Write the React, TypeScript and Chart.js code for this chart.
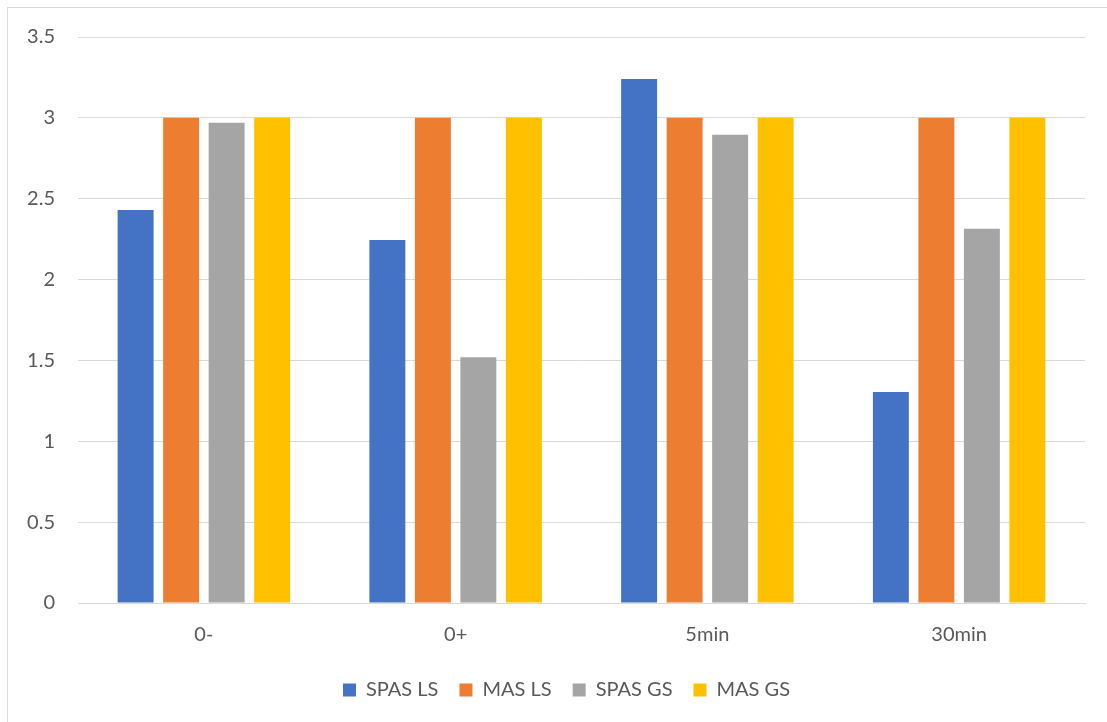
import React, { useEffect, useRef } from "react";
import { Chart, registerables } from "chart.js";

Chart.register(...registerables);

const categories = ["0-", "0+", "5min", "30min"];
const spasLS = [2.43, 2.245, 3.24, 1.305];
const masLS = [3, 3, 3, 3];
const spasGS = [2.97, 1.52, 2.895, 2.315];
const masGS = [3, 3, 3, 3];
const yTicks = [0, 0.5, 1, 1.5, 2, 2.5, 3, 3.5];

const FONT = "Lato, 'Open Sans', sans-serif";
const FS = 20;
const LEGEND_PAD = 21;
const LEGEND_TRIM = 7;
const LEGEND_SHIFT_Y = 8;
const LEGEND_SHIFT_X = 20;

const legendPatch = {
  id: "legendPatch",
  beforeLayout(chart: any) {
    const lg = chart.legend;
    if (lg && !lg.__patched) {
      const origFit = lg.fit.bind(lg);
      lg.fit = function () {
        origFit();
        this.height -= LEGEND_TRIM;
      };
      const origDraw = lg.draw.bind(lg);
      lg.draw = function () {
        const t = this.top, l = this.left, r = this.right;
        this.top = t - LEGEND_SHIFT_Y;
        this.left = l + LEGEND_SHIFT_X;
        this.right = r + LEGEND_SHIFT_X;
        origDraw();
        this.top = t;
        this.left = l;
        this.right = r;
      };
      lg.__patched = true;
    }
  },
};

export default function App() {
  const ref = useRef<HTMLCanvasElement>(null);
  useEffect(() => {
    if (!ref.current) return;
    const chart = new Chart(ref.current, {
      type: "bar",
      data: {
        labels: categories,
        datasets: [
          { label: "SPAS LS", data: spasLS, backgroundColor: "#4472C4" },
          { label: "MAS LS", data: masLS, backgroundColor: "#ED7D31" },
          { label: "SPAS GS", data: spasGS, backgroundColor: "#A5A5A5" },
          { label: "MAS GS", data: masGS, backgroundColor: "#FFC000" },
        ],
      },
      plugins: [legendPatch],
      options: {
        animation: false,
        responsive: false,
        maintainAspectRatio: false,
        datasets: { bar: { categoryPercentage: 0.723, barPercentage: 0.79 } },
        layout: { padding: { left: 0, right: 22, top: 29, bottom: 11 } },
        scales: {
          x: {
            grid: { display: false, drawTicks: false },
            border: { display: true, color: "#D9D9D9", width: 1 },
            ticks: { color: "#595959", font: { family: FONT, size: FS }, padding: 20 },
          },
          y: {
            min: 0,
            max: 3.5,
            afterBuildTicks: (scale: any) => {
              scale.ticks = yTicks.map((v) => ({ value: v }));
            },
            afterFit: (scale: any) => {
              scale.width = 70;
              scale.paddingTop = 0;
              scale.paddingBottom = 0;
            },
            grid: { color: "#D9D9D9", drawTicks: false },
            border: { display: false },
            ticks: {
              color: "#595959",
              font: { family: FONT, size: FS },
              padding: 23,
              callback: (v: any) => String(v),
            },
          },
        },
        plugins: {
          tooltip: { enabled: false },
          legend: {
            position: "bottom",
            labels: {
              color: "#595959",
              font: { family: FONT, size: FS },
              boxWidth: 13,
              boxHeight: 13,
              padding: LEGEND_PAD,
            },
          },
        },
      },
    });
    return () => chart.destroy();
  }, []);
  return (
    <div
      style={{
        position: "fixed",
        left: 7,
        top: 7,
        width: 1108,
        height: 722,
        border: "1px solid #D9D9D9",
        background: "#fff",
      }}
    >
      <canvas ref={ref} width={1099} height={714} style={{ display: "block" }} />
    </div>
  );
}
